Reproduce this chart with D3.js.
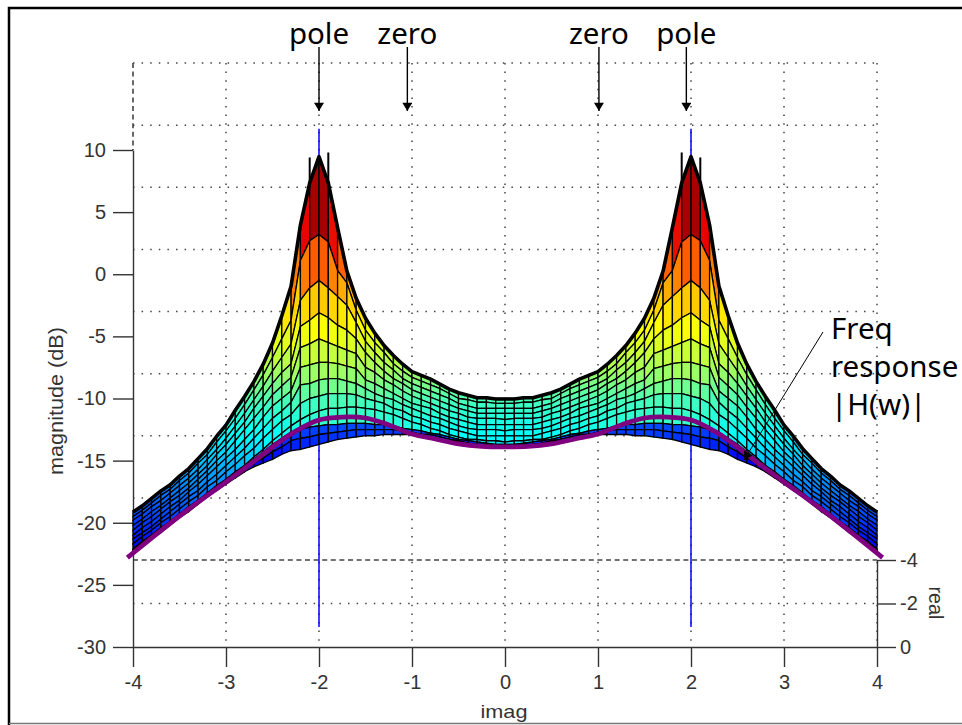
<!DOCTYPE html>
<meta charset="utf-8">
<style>
body { margin: 0; background: #fff; }
.axis path, .axis line { stroke: #333; stroke-width: 1.4px; }
.axis text { font-family: "Liberation Sans", Arial, sans-serif; font-size: 20px; fill: #333; }
.grid line { stroke: #444; stroke-width: 1.5px; stroke-dasharray: 1.5 7.1; }
.grid line.floor { stroke-width: 1.6px; stroke-dasharray: 5 3.6; }
.label { font-family: "Liberation Sans", Arial, sans-serif; font-size: 20px; fill: #333; }
.note { font-family: "Noto Sans", sans-serif; font-size: 29.5px; fill: #000; }
</style>
<svg width="962" height="725"></svg>
<script src="https://d3js.org/d3.v7.min.js"></script>
<script>
// left half of the surface, the right half is its mirror image
var imagColumns = [-4,-3.9,-3.8,-3.7,-3.6,-3.5,-3.4,-3.3,-3.2,-3.1,-3,-2.9,-2.8,-2.7,-2.6,-2.5,-2.4,-2.3,-2.2,-2.1,
  -2,-1.9,-1.8,-1.7,-1.6,-1.5,-1.4,-1.3,-1.2,-1.1,-1,-0.9,-0.8,-0.7,-0.6,-0.5,-0.4,-0.3,-0.2,-0.1,0];

// visible sheet, one line per imag column, top mesh row first, dB as read on the magnitude axis
var upperDb = [
  [-19.1,-19.5,-19.8,-20.2,-20.6,-21.0,-21.3,-21.7,-22.1],
  [-18.6,-19.0,-19.3,-19.7,-20.0,-20.4,-20.8,-21.1,-21.5],
  [-18.0,-18.4,-18.7,-19.1,-19.5,-19.9,-20.3,-20.6,-21.0],
  [-17.4,-17.8,-18.2,-18.6,-18.9,-19.3,-19.7,-20.0,-20.4],
  [-16.9,-17.3,-17.6,-18.0,-18.3,-18.7,-19.1,-19.5,-19.9],
  [-16.2,-16.6,-17.0,-17.4,-17.8,-18.2,-18.5,-18.9,-19.3],
  [-15.6,-16.0,-16.4,-16.8,-17.2,-17.5,-17.9,-18.3,-18.7],
  [-14.8,-15.2,-15.7,-16.1,-16.5,-16.9,-17.4,-17.8,-18.2],
  [-14.0,-14.5,-14.9,-15.4,-15.8,-16.2,-16.7,-17.1,-17.6],
  [-13.0,-13.5,-14.1,-14.5,-15.0,-15.5,-16.1,-16.6,-17.0],
  [-12.1,-12.6,-13.2,-13.7,-14.3,-14.8,-15.4,-15.9,-16.5],
  [-10.9,-11.6,-12.2,-12.8,-13.4,-14.1,-14.7,-15.3,-15.9],
  [-9.8,-10.5,-11.2,-11.9,-12.5,-13.3,-14.0,-14.6,-15.4],
  [-8.6,-9.3,-10.1,-10.8,-11.6,-12.5,-13.2,-14.0,-14.7],
  [-7.2,-8.1,-9.0,-9.8,-10.7,-11.5,-12.4,-13.2,-14.1],
  [-5.5,-6.7,-7.8,-8.8,-9.7,-10.6,-11.6,-12.5,-13.4],
  [-3.3,-5.2,-6.7,-7.9,-9.0,-10.0,-11.0,-11.8,-12.8],
  [-0.9,-3.7,-5.6,-7.2,-8.3,-9.4,-10.3,-11.3,-12.2],
  [4.0,1.1,-2.1,-4.2,-5.9,-7.5,-8.9,-10.4,-11.7],
  [7.4,2.7,-1.1,-3.7,-5.6,-7.3,-8.8,-10.0,-11.3],
  [9.5,3.2,-0.5,-3.1,-5.2,-7.1,-8.5,-9.8,-11.0],
  [7.4,2.6,-1.1,-3.5,-5.5,-7.1,-8.4,-9.6,-10.8],
  [3.8,0.3,-1.8,-4.1,-5.8,-7.2,-8.4,-9.6,-10.8],
  [0.3,-0.7,-2.5,-4.5,-6.1,-7.4,-8.6,-9.6,-10.7],
  [-1.9,-2.9,-3.9,-5.2,-6.4,-7.6,-8.8,-9.7,-10.7],
  [-3.5,-4.5,-5.4,-6.3,-7.5,-8.5,-9.2,-10.0,-10.8],
  [-4.7,-5.5,-6.3,-7.1,-7.9,-8.8,-9.6,-10.2,-10.9],
  [-5.7,-6.3,-7.1,-7.8,-8.5,-9.2,-9.9,-10.4,-11.1],
  [-6.5,-7.2,-7.7,-8.4,-8.9,-9.6,-10.1,-10.8,-11.3],
  [-7.2,-7.8,-8.4,-8.8,-9.4,-10.0,-10.5,-11.0,-11.6],
  [-7.8,-8.3,-8.8,-9.3,-9.8,-10.4,-10.8,-11.4,-11.9],
  [-8.1,-8.6,-9.1,-9.6,-10.1,-10.6,-11.1,-11.6,-12.1],
  [-8.4,-8.9,-9.4,-9.9,-10.4,-10.8,-11.4,-11.9,-12.4],
  [-8.8,-9.2,-9.7,-10.2,-10.7,-11.2,-11.6,-12.1,-12.6],
  [-9.2,-9.6,-10.0,-10.5,-11.0,-11.5,-11.9,-12.4,-12.9],
  [-9.5,-10.0,-10.4,-10.8,-11.2,-11.7,-12.2,-12.6,-13.1],
  [-9.7,-10.1,-10.6,-11.0,-11.5,-11.9,-12.4,-12.8,-13.3],
  [-9.9,-10.3,-10.8,-11.2,-11.6,-12.1,-12.5,-13.0,-13.3],
  [-9.9,-10.3,-10.8,-11.2,-11.6,-12.1,-12.5,-13.0,-13.4],
  [-10.0,-10.4,-10.8,-11.2,-11.6,-12.1,-12.5,-13.0,-13.4],
  [-10.0,-10.4,-10.8,-11.2,-11.7,-12.1,-12.6,-13.0,-13.5]
];

// blue fold under the purple line, these rows sit at real = -4
var lowerDb = [
  [-29.2,-29.3,-29.4],[-28.6,-28.8,-28.9],[-28.1,-28.2,-28.3],[-27.5,-27.7,-27.8],[-26.9,-27.1,-27.2],
  [-26.4,-26.5,-26.6],[-25.8,-26.0,-26.1],[-25.2,-25.4,-25.5],[-24.7,-24.8,-24.9],[-24.1,-24.3,-24.4],
  [-23.6,-23.7,-23.9],[-23.0,-23.2,-23.4],[-22.4,-22.7,-22.9],[-21.9,-22.2,-22.5],[-21.3,-21.8,-22.2],
  [-20.7,-21.3,-21.9],[-20.2,-20.9,-21.5],[-19.7,-20.4,-21.2],[-19.5,-20.2,-21.1],[-19.3,-20.1,-20.9],
  [-19.2,-19.9,-20.7],[-19.1,-19.8,-20.5],[-19.1,-19.7,-20.3],[-19.0,-19.6,-20.2],[-19.0,-19.5,-20.1],
  [-19.0,-19.5,-20.0],[-19.1,-19.5,-20.0],[-19.1,-19.5,-19.9],[-19.2,-19.5,-19.9],[-19.4,-19.6,-19.9],
  [-19.5,-19.7,-19.9],[-19.6,-19.9,-20.0],[-19.8,-19.9,-20.1],[-19.9,-20.1,-20.3],[-20.1,-20.3,-20.4],
  [-20.3,-20.4,-20.5],[-20.4,-20.6,-20.7],[-20.5,-20.7,-20.7],[-20.6,-20.7,-20.8],[-20.7,-20.8,-20.9],
  [-20.7,-20.9,-21.0]
];

// the thin spikes either side of the peak
var spikeImag = [-2.1, -1.9];
var spikeDb = [9.4, 9.8];

// freq response |H(w)|
var responseImag = [-4.06,-3.5,-3,-2.75,-2.5,-2.25,-2,-1.75,-1.5,-1.25,-1,-0.75,-0.5,-0.25,0];
var responseDb = [-22.8,-19.46,-16.72,-15.35,-13.9,-12.62,-11.73,-11.5,-11.57,-12.13,-12.86,-13.26,-13.66,-13.86,-13.9];

var magTicks = [-30,-25,-20,-15,-10,-5,0,5,10];
var imagTicks = [-4,-3,-2,-1,0,1,2,3,4];
var realTicks = [0,-2,-4];
var wallDb = [-25,-20,-15,-10,-5,0,5,10];
var poleImag = [-2, 2];
var poleReal = -0.92;
var poleDb = [-30, 10.1];
var arrowImag = [-2, -1.05, 1.01, 1.95];
var arrowText = ["pole", "zero", "zero", "pole"];
var freqLines = ["Freq", "response", "|H(w)|"];

var colorDb = [-29,-22,-19,-16,-13,-10.4,-7.8,-4.2,-1.75,1.4,3.9,6.4];
var colorHex = ["#0000c0","#0000ff","#0050ff","#00a0ff","#00ffff","#40ffc0","#a0ff60","#ffff00","#ffc000","#ff5000","#e80000","#8c0000"];

var svg = d3.select("svg");

var x = d3.scaleLinear().domain([-4, 4]).range([133, 877]);
var z = d3.scaleLinear().domain([-30, 10]).range([647, 150]);
var real = d3.scaleLinear().domain([0, -4]).range([647, 560]);
var color = d3.scaleLinear().domain(colorDb).range(colorHex).clamp(true);

// a point on screen is magnitude plus the lift that comes from going back in real
function py(db, r) { return z(db) + real(r) - real(0); }

// frame
svg.append("path").attr("d", "M9,725V8H962").attr("fill", "none").attr("stroke", "#000").attr("stroke-width", 2.5);
svg.append("line").attr("x1", 9).attr("x2", 962).attr("y1", 723.5).attr("y2", 723.5).attr("stroke", "#777").attr("stroke-width", 1.5);

// back wall and floor grid
var grid = svg.append("g").attr("class", "grid");
grid.selectAll("line.wall").data(wallDb).enter().append("line")
    .attr("x1", x(-4)).attr("x2", x(4))
    .attr("y1", function(d) { return py(d, -4); })
    .attr("y2", function(d) { return py(d, -4); });
grid.selectAll("line.col").data(imagTicks.slice(1)).enter().append("line")
    .attr("x1", function(d) { return x(d); }).attr("x2", function(d) { return x(d); })
    .attr("y1", py(10, -4)).attr("y2", z(-30));
grid.append("line").attr("x1", x(-4)).attr("x2", x(4)).attr("y1", real(-2)).attr("y2", real(-2));
grid.append("line").attr("class", "floor").attr("x1", x(-4)).attr("x2", x(4)).attr("y1", real(-4)).attr("y2", real(-4));
grid.append("line").attr("class", "floor").attr("x1", x(-4)).attr("x2", x(-4)).attr("y1", py(10, -4)).attr("y2", z(10));

// axes
var magAxis = d3.axisLeft(z).tickValues(magTicks).tickSize(20).tickSizeOuter(0).tickPadding(7).tickFormat(String);
svg.append("g").attr("class", "axis").attr("transform", "translate(" + x(-4) + ",0)").call(magAxis);
var imagAxis = d3.axisBottom(x).tickValues(imagTicks).tickSize(20).tickSizeOuter(0).tickPadding(8).tickFormat(String);
svg.append("g").attr("class", "axis").attr("transform", "translate(0," + z(-30) + ")").call(imagAxis);
var realAxis = d3.axisRight(real).tickValues(realTicks).tickSize(19).tickSizeOuter(0).tickPadding(4).tickFormat(String);
svg.append("g").attr("class", "axis").attr("transform", "translate(" + x(4) + ",0)").call(realAxis);

svg.append("text").attr("class", "label").attr("transform", "translate(63,401) rotate(-90)")
    .attr("text-anchor", "middle").attr("textLength", 148).attr("lengthAdjust", "spacingAndGlyphs")
    .text("magnitude (dB)");
svg.append("text").attr("class", "label").attr("x", 504).attr("y", 718)
    .style("font-size", "18.5px")
    .attr("text-anchor", "middle").attr("textLength", 47).attr("lengthAdjust", "spacingAndGlyphs")
    .text("imag");
svg.append("text").attr("class", "label").attr("transform", "translate(929,603) rotate(90)")
    .attr("text-anchor", "middle").attr("textLength", 33).attr("lengthAdjust", "spacingAndGlyphs")
    .text("real");

// pole lines go behind the surface
svg.selectAll("line.pole").data(poleImag).enter().append("line")
    .attr("x1", function(d) { return x(d); }).attr("x2", function(d) { return x(d); })
    .attr("y1", py(poleDb[0], poleReal)).attr("y2", py(poleDb[1], poleReal))
    .attr("stroke", "#0000ff").attr("stroke-width", 1.5);

// build the whole mesh, mirroring the left half
var nCols = imagColumns.length * 2 - 1;
function mirror(i) { return i < imagColumns.length ? i : nCols - 1 - i; }
function imagAt(i) { return i < imagColumns.length ? imagColumns[i] : -imagColumns[nCols - 1 - i]; }
var nUpper = upperDb[0].length;
var nRows = nUpper + lowerDb[0].length;
function rowDb(i, r) { return r < nUpper ? upperDb[mirror(i)][r] : lowerDb[mirror(i)][r - nUpper]; }
function rowY(i, r) { return r < nUpper ? py(rowDb(i, r), 0) : py(rowDb(i, r), -4); }

var cells = [];
for (var r = 0; r < nRows - 1; r++) {
  for (var i = 0; i < nCols - 1; i++) {
    // the cell that crosses from the sheet to the fold keeps the colour of the sheet
    var lo = r + 1 === nUpper ? r : r + 1;
    cells.push({
      d: "M" + x(imagAt(i)) + "," + rowY(i, r) + "L" + x(imagAt(i + 1)) + "," + rowY(i + 1, r) +
         "L" + x(imagAt(i + 1)) + "," + rowY(i + 1, r + 1) + "L" + x(imagAt(i)) + "," + rowY(i, r + 1) + "Z",
      mean: d3.mean([rowDb(i, r), rowDb(i + 1, r), rowDb(i, lo), rowDb(i + 1, lo)])
    });
  }
}

var surface = svg.append("g");
surface.selectAll("path").data(cells).enter().append("path")
    .attr("d", function(d) { return d.d; })
    .attr("fill", function(d) { return color(d.mean); })
    .attr("stroke", "#000").attr("stroke-width", 1.3);

// dark rim along the back of the surface
var rim = d3.line()
    .x(function(i) { return x(imagAt(i)); })
    .y(function(i) { return rowY(i, 0) + 0.5; });
surface.append("path").attr("d", rim(d3.range(nCols)))
    .attr("fill", "none").attr("stroke", "#000").attr("stroke-width", 3.6).attr("stroke-linejoin", "round");

// spikes near each peak, both sides
spikeImag.forEach(function(s, n) {
  [s, -s].forEach(function(im) {
    var col = Math.round((im + 4) * 10);
    surface.append("line")
        .attr("x1", x(im)).attr("x2", x(im))
        .attr("y1", rowY(col, 0)).attr("y2", z(spikeDb[n]))
        .attr("stroke", "#000").attr("stroke-width", 2);
  });
});

// freq response, left half then mirrored
var respX = responseImag.concat(responseImag.slice(0, -1).reverse().map(function(d) { return -d; }));
var respY = responseDb.concat(responseDb.slice(0, -1).reverse());
var respLine = d3.line()
    .x(function(d) { return x(d); })
    .y(function(d, i) { return z(respY[i]); })
    .curve(d3.curveCatmullRom);
svg.append("path").attr("d", respLine(respX))
    .attr("fill", "none").attr("stroke", "#800080").attr("stroke-width", 4.8);

// arrows and notes on top
svg.append("defs").append("marker").attr("id", "head")
    .attr("viewBox", "0 0 10 12").attr("refX", 10).attr("refY", 6)
    .attr("markerWidth", 12).attr("markerHeight", 10).attr("markerUnits", "userSpaceOnUse")
    .attr("orient", "auto")
  .append("path").attr("d", "M0,0L10,6L0,12Z").attr("fill", "#000");

svg.selectAll("line.arrow").data(arrowImag).enter().append("line")
    .attr("x1", function(d) { return x(d); }).attr("x2", function(d) { return x(d); })
    .attr("y1", 47).attr("y2", 111)
    .attr("stroke", "#000").attr("stroke-width", 1.4)
    .attr("marker-end", "url(#head)");
svg.selectAll("text.top").data(arrowText).enter().append("text")
    .attr("class", "note").attr("text-anchor", "middle")
    .attr("x", function(d, i) { return x(arrowImag[i]); }).attr("y", 44)
    .text(function(d) { return d; });

svg.append("line").attr("x1", 823).attr("y1", 332).attr("x2", 744).attr("y2", 460)
    .attr("stroke", "#000").attr("stroke-width", 1).attr("marker-end", "url(#head)");
svg.selectAll("text.freq").data(freqLines).enter().append("text")
    .attr("class", "note").attr("x", 831)
    .attr("y", function(d, i) { return 339 + i * 38; })
    .text(function(d) { return d; });
</script>
